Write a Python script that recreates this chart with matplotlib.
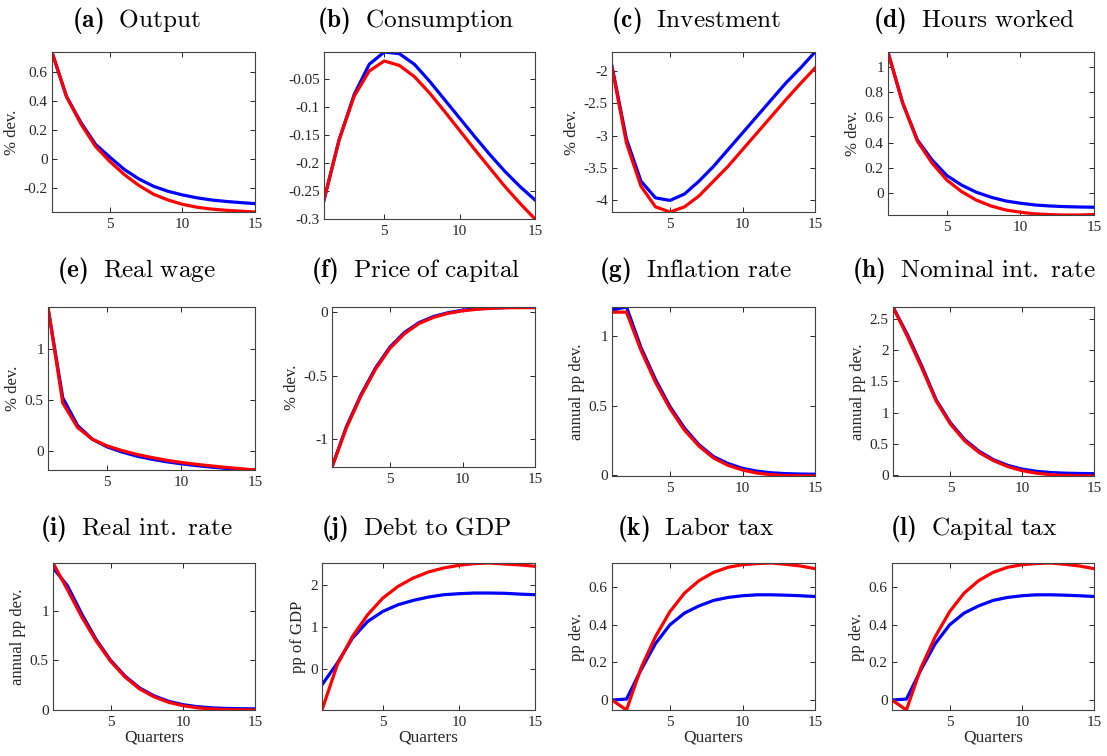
import matplotlib.pyplot as plt
from matplotlib.ticker import FormatStrFormatter

# Quarters after the shock
quarters = list(range(1, 16))

# Impulse responses (blue = baseline, red = alternative)
output_blue = [0.735, 0.43, 0.25, 0.10, 0.01, -0.075, -0.14, -0.19, -0.225, -0.25, -0.27, -0.285, -0.295, -0.303, -0.31]
output_red = [0.738, 0.43, 0.24, 0.085, -0.02, -0.11, -0.185, -0.245, -0.285, -0.315, -0.335, -0.348, -0.356, -0.362, -0.368]

cons_blue = [-0.266, -0.159, -0.078, -0.024, -0.002, -0.005, -0.024, -0.054, -0.087, -0.12, -0.153, -0.185, -0.215, -0.242, -0.266]
cons_red = [-0.266, -0.159, -0.081, -0.036, -0.018, -0.026, -0.046, -0.075, -0.108, -0.142, -0.176, -0.209, -0.242, -0.272, -0.30]

inv_blue = [-1.92, -3.06, -3.71, -3.97, -4.01, -3.91, -3.71, -3.48, -3.22, -2.96, -2.70, -2.44, -2.18, -1.95, -1.70]
inv_red = [-1.94, -3.12, -3.79, -4.11, -4.19, -4.11, -3.94, -3.71, -3.48, -3.22, -2.96, -2.70, -2.44, -2.19, -1.95]

hours_blue = [1.12, 0.715, 0.42, 0.26, 0.136, 0.06, 0.003, -0.037, -0.067, -0.085, -0.099, -0.107, -0.112, -0.115, -0.117]
hours_red = [1.123, 0.715, 0.41, 0.235, 0.10, 0.008, -0.06, -0.107, -0.139, -0.157, -0.17, -0.176, -0.179, -0.179, -0.175]

wage_blue = [1.40, 0.52, 0.25, 0.115, 0.04, -0.01, -0.05, -0.08, -0.105, -0.125, -0.142, -0.157, -0.17, -0.18, -0.186]
wage_red = [1.41, 0.47, 0.23, 0.115, 0.05, 0.005, -0.033, -0.063, -0.09, -0.112, -0.13, -0.145, -0.16, -0.173, -0.186]

pk_blue = [-1.22, -0.90, -0.65, -0.44, -0.275, -0.16, -0.083, -0.035, -0.005, 0.015, 0.026, 0.032, 0.036, 0.038, 0.04]
pk_red = [-1.22, -0.91, -0.66, -0.45, -0.285, -0.17, -0.09, -0.042, -0.01, 0.01, 0.022, 0.03, 0.034, 0.035, 0.035]

infl_blue = [1.19, 1.212, 0.92, 0.69, 0.495, 0.34, 0.22, 0.135, 0.085, 0.05, 0.03, 0.018, 0.012, 0.009, 0.008]
infl_red = [1.175, 1.175, 0.90, 0.67, 0.48, 0.325, 0.21, 0.125, 0.072, 0.038, 0.016, 0.004, -0.002, -0.004, -0.005]

nom_blue = [2.69, 2.25, 1.75, 1.21, 0.84, 0.57, 0.385, 0.25, 0.16, 0.10, 0.065, 0.045, 0.035, 0.03, 0.028]
nom_red = [2.69, 2.22, 1.72, 1.19, 0.82, 0.55, 0.365, 0.235, 0.14, 0.075, 0.035, 0.01, -0.003, -0.008, -0.01]

real_blue = [1.44, 1.26, 0.97, 0.71, 0.50, 0.34, 0.22, 0.14, 0.085, 0.05, 0.03, 0.018, 0.012, 0.009, 0.008]
real_red = [1.49, 1.22, 0.94, 0.695, 0.49, 0.33, 0.21, 0.13, 0.075, 0.04, 0.018, 0.006, 0.0, -0.003, -0.004]

debt_blue = [-0.38, 0.136, 0.736, 1.136, 1.376, 1.536, 1.64, 1.72, 1.776, 1.80, 1.816, 1.816, 1.81, 1.79, 1.776]
debt_red = [-0.984, 0.096, 0.776, 1.296, 1.696, 1.976, 2.176, 2.32, 2.416, 2.48, 2.52, 2.535, 2.51, 2.49, 2.456]

labor_blue = [0.0, 0.005, 0.16, 0.30, 0.40, 0.462, 0.50, 0.529, 0.545, 0.554, 0.559, 0.559, 0.557, 0.554, 0.55]
labor_red = [0.0, -0.053, 0.17, 0.337, 0.47, 0.568, 0.634, 0.678, 0.705, 0.719, 0.725, 0.728, 0.721, 0.712, 0.698]

captax_blue = [0.0, 0.005, 0.16, 0.30, 0.40, 0.462, 0.50, 0.529, 0.545, 0.554, 0.559, 0.559, 0.557, 0.554, 0.55]
captax_red = [0.0, -0.053, 0.17, 0.337, 0.47, 0.568, 0.634, 0.678, 0.705, 0.719, 0.725, 0.728, 0.721, 0.712, 0.698]

# Panel titles, y labels and y tick values
letters = ['a', 'b', 'c', 'd', 'e', 'f', 'g', 'h', 'i', 'j', 'k', 'l']
titles = ['Output', 'Consumption', 'Investment', 'Hours worked',
          'Real wage', 'Price of capital', 'Inflation rate', 'Nominal int. rate',
          'Real int. rate', 'Debt to GDP', 'Labor tax', 'Capital tax']
ylabels = ['% dev.', '', '% dev.', '% dev.',
           '% dev.', '% dev.', 'annual pp dev.', 'annual pp dev.',
           'annual pp dev.', 'pp of GDP', 'pp dev.', 'pp dev.']
yticks = [[-0.2, 0, 0.2, 0.4, 0.6], [-0.3, -0.25, -0.2, -0.15, -0.1, -0.05],
          [-4, -3.5, -3, -2.5, -2], [0, 0.2, 0.4, 0.6, 0.8, 1],
          [0, 0.5, 1], [-1, -0.5, 0], [0, 0.5, 1], [0, 0.5, 1, 1.5, 2, 2.5],
          [0, 0.5, 1], [0, 1, 2], [0, 0.2, 0.4, 0.6], [0, 0.2, 0.4, 0.6]]
xticks = [5, 10, 15]
xlabel = 'Quarters'

series = [(output_blue, output_red), (cons_blue, cons_red), (inv_blue, inv_red), (hours_blue, hours_red),
          (wage_blue, wage_red), (pk_blue, pk_red), (infl_blue, infl_red), (nom_blue, nom_red),
          (real_blue, real_red), (debt_blue, debt_red), (labor_blue, labor_red), (captax_blue, captax_red)]

# Axes boxes in pixels: left, top, right, bottom
W, H = 1107, 756
boxes = [(52, 52, 255, 212), (324, 52, 535, 219), (612, 52, 815, 212), (888, 52, 1094, 215),
         (48, 307, 255, 470), (332, 307, 535, 467), (612, 307, 815, 476), (893, 307, 1094, 476),
         (53, 563, 255, 710), (322, 563, 535, 710), (612, 563, 815, 710), (892, 563, 1094, 710)]
title_x = [136, 416, 696, 974]
title_y = [20, 270, 528]

plt.rcParams['font.family'] = 'Liberation Serif'
# Computer Modern for the titles, bold letter incl. parentheses
plt.rcParams['mathtext.fontset'] = 'custom'
plt.rcParams['mathtext.rm'] = 'cmr10'
plt.rcParams['mathtext.bf'] = 'cmb10'
plt.rcParams['mathtext.it'] = 'cmmi10'
plt.rcParams['axes.unicode_minus'] = False

fig = plt.figure(figsize=(W / 100, H / 100), dpi=100)

for k in range(12):
    l, t, r, b = boxes[k]
    ax = fig.add_axes([l / W, 1 - b / H, (r - l) / W, (b - t) / H])
    blue, red = series[k]
    ax.plot(quarters, blue, color='blue', lw=2.3)
    ax.plot(quarters, red, color='red', lw=2.3)
    ax.autoscale(enable=True, axis='both', tight=True)

    ax.set_xticks(xticks)
    ax.set_yticks(yticks[k])
    ax.yaxis.set_major_formatter(FormatStrFormatter('%g'))
    ax.tick_params(direction='in', top=True, right=True, length=3.5, width=0.7,
                   labelsize=11, colors='#262626', pad=3)
    ax.tick_params(axis='x', pad=4)
    for s in ax.spines.values():
        s.set_color('#404040')
        s.set_linewidth(0.8)

    if ylabels[k]:
        ax.set_ylabel(ylabels[k], fontsize=12, color='#262626', labelpad=3)
    if k >= 8:
        ax.set_xlabel(xlabel, fontsize=12.5, color='#262626', labelpad=1)

    name = titles[k].replace(' ', r'\ ')
    fig.text(title_x[k % 4] / W, 1 - title_y[k // 4] / H,
             r'$\mathbf{(' + letters[k] + r')}\ \ \mathrm{' + name + '}$',
             ha='center', va='center', fontsize=18.2)

plt.savefig('out.png', dpi=100)
